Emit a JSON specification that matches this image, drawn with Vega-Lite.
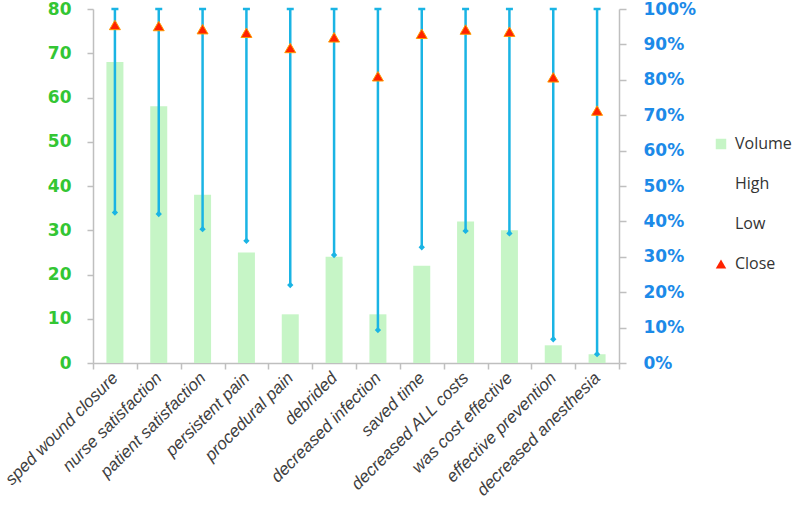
{
  "$schema": "https://vega.github.io/schema/vega-lite/v6.json",
  "width": 526,
  "height": 354,
  "autosize": "none",
  "padding": {"left": 93, "top": 9, "right": 181, "bottom": 149},
  "background": "white",
  "config": {
    "view": {"stroke": null},
    "axis": {"grid": false, "domainColor": "#bfbfbf", "tickColor": "#bfbfbf", "domainWidth": 1.5, "tickWidth": 1.5}
  },
  "data": {
    "values": [
      {"item": "sped wound closure", "volume": 68, "low": 0.425, "high": 1, "close": 0.955},
      {"item": "nurse satisfaction", "volume": 58, "low": 0.421, "high": 1, "close": 0.952},
      {"item": "patient satisfaction", "volume": 38, "low": 0.378, "high": 1, "close": 0.943},
      {"item": "persistent pain", "volume": 25, "low": 0.345, "high": 1, "close": 0.933},
      {"item": "procedural pain", "volume": 11, "low": 0.22, "high": 1, "close": 0.89},
      {"item": "debrided", "volume": 24, "low": 0.305, "high": 1, "close": 0.92},
      {"item": "decreased infection", "volume": 11, "low": 0.093, "high": 1, "close": 0.81},
      {"item": "saved time", "volume": 22, "low": 0.327, "high": 1, "close": 0.93},
      {"item": "decreased ALL costs", "volume": 32, "low": 0.373, "high": 1, "close": 0.942},
      {"item": "was cost effective", "volume": 30, "low": 0.366, "high": 1, "close": 0.936},
      {"item": "effective prevention", "volume": 4, "low": 0.067, "high": 1, "close": 0.807},
      {"item": "decreased anesthesia", "volume": 2, "low": 0.025, "high": 1, "close": 0.713}
    ]
  },
  "encoding": {
    "x": {
      "field": "item",
      "type": "nominal",
      "sort": null,
      "title": null,
      "scale": {"paddingInner": 0, "paddingOuter": 0},
      "axis": {
        "labelAngle": -45,
        "labelAlign": "right",
        "labelBaseline": "middle",
        "labelFont": "Liberation Sans",
        "labelFontStyle": "italic",
        "labelFontSize": 17,
        "labelColor": "#404040",
        "labelPadding": 6,
        "tickBand": "extent",
        "tickSize": 6
      }
    }
  },
  "layer": [
    {
      "mark": {"type": "bar", "size": 17},
      "encoding": {
        "y": {
          "field": "volume",
          "type": "quantitative",
          "title": null,
          "scale": {"domain": [0, 80]},
          "axis": {
            "orient": "left",
            "values": [0, 10, 20, 30, 40, 50, 60, 70, 80],
            "labelOverlap": false,
            "labelFont": "DejaVu Sans",
            "labelFontWeight": "bold",
            "labelFontSize": 17,
            "labelColor": "#33c633",
            "labelPadding": 16,
            "tickSize": 6
          }
        },
        "color": {
          "datum": "Volume",
          "scale": {"domain": ["Volume", "High", "Low", "Close"], "range": ["#c6f5c6", "transparent", "transparent", "#ff2200"]},
          "legend": {
            "title": null,
            "orient": "none",
            "legendX": 620,
            "legendY": 127,
            "labelFont": "Open Sans",
            "labelFontSize": 16,
            "labelColor": "#333333",
            "symbolSize": 110,
            "symbolStrokeWidth": 0,
            "rowPadding": 24,
            "labelOffset": 6
          }
        }
      }
    },
    {
      "layer": [
        {
          "mark": {"type": "rule", "color": "#1ab4e4", "strokeWidth": 2.5},
          "encoding": {
            "y": {
              "field": "low",
              "type": "quantitative",
              "title": null,
              "scale": {"domain": [0, 1]},
              "axis": {"orient": "right", "values": [0, 0.1, 0.2, 0.3, 0.4, 0.5, 0.6, 0.7, 0.8, 0.9, 1], "labelOverlap": false, "format": ".0%", "labelFont": "DejaVu Sans", "labelFontWeight": "bold", "labelFontSize": 17, "labelColor": "#1c8ae8", "labelPadding": 17, "tickSize": 7}
            },
            "y2": {"field": "high"}
          }
        },
        {
          "mark": {"type": "point", "shape": "diamond", "filled": true, "size": 40, "color": "#1ab4e4", "opacity": 1},
          "encoding": {
            "y": {
              "field": "low",
              "type": "quantitative",
              "title": null,
              "scale": {"domain": [0, 1]},
              "axis": {"orient": "right", "values": [0, 0.1, 0.2, 0.3, 0.4, 0.5, 0.6, 0.7, 0.8, 0.9, 1], "labelOverlap": false, "format": ".0%", "labelFont": "DejaVu Sans", "labelFontWeight": "bold", "labelFontSize": 17, "labelColor": "#1c8ae8", "labelPadding": 17, "tickSize": 7}
            }
          }
        },
        {
          "mark": {"type": "tick", "size": 7, "thickness": 2.5, "color": "#1ab4e4", "opacity": 1},
          "encoding": {
            "y": {
              "field": "high",
              "type": "quantitative",
              "title": null,
              "scale": {"domain": [0, 1]},
              "axis": {"orient": "right", "values": [0, 0.1, 0.2, 0.3, 0.4, 0.5, 0.6, 0.7, 0.8, 0.9, 1], "labelOverlap": false, "format": ".0%", "labelFont": "DejaVu Sans", "labelFontWeight": "bold", "labelFontSize": 17, "labelColor": "#1c8ae8", "labelPadding": 17, "tickSize": 7}
            }
          }
        },
        {
          "mark": {"type": "point", "filled": true, "size": 120, "stroke": "#ff9a00", "strokeWidth": 1, "opacity": 1},
          "encoding": {
            "y": {
              "field": "close",
              "type": "quantitative",
              "title": null,
              "scale": {"domain": [0, 1]},
              "axis": {"orient": "right", "values": [0, 0.1, 0.2, 0.3, 0.4, 0.5, 0.6, 0.7, 0.8, 0.9, 1], "labelOverlap": false, "format": ".0%", "labelFont": "DejaVu Sans", "labelFontWeight": "bold", "labelFontSize": 17, "labelColor": "#1c8ae8", "labelPadding": 17, "tickSize": 7}
            },
            "color": {"datum": "Close", "scale": {"domain": ["Volume", "High", "Low", "Close"], "range": ["#c6f5c6", "transparent", "transparent", "#ff2200"]}},
            "shape": {"datum": "Close", "scale": {"domain": ["Volume", "High", "Low", "Close"], "range": ["square", "square", "square", "triangle-up"]}}
          }
        }
      ]
    }
  ],
  "resolve": {"scale": {"y": "independent"}}
}
